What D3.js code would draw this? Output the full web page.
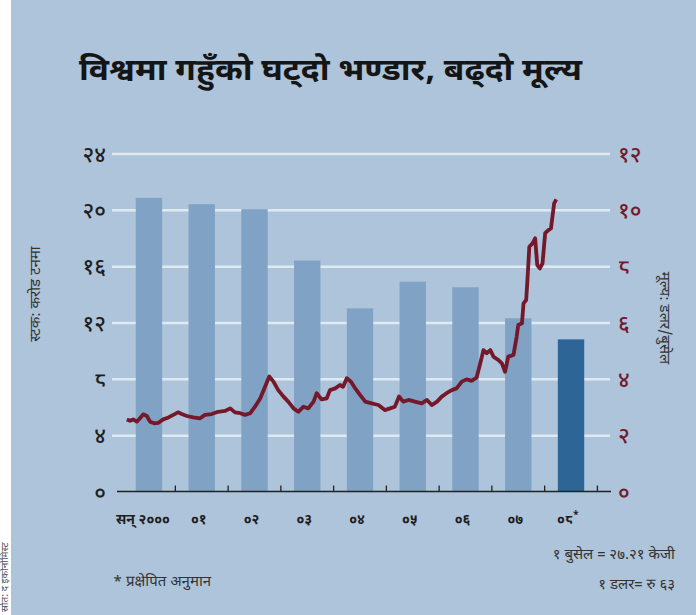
<!DOCTYPE html>
<html lang="ne">
<head>
<meta charset="utf-8">
<title>विश्वमा गहुँको घट्दो भण्डार, बढ्दो मूल्य</title>
<script src="https://cdn.jsdelivr.net/npm/d3@7/dist/d3.min.js"></script>
<style>
  body { margin: 0; background: #fff; }
  svg text { font-family: "Noto Sans Devanagari", "Lohit Devanagari", "FreeSans", "Noto Sans", sans-serif; }
</style>
</head>
<body>
<div id="chart"></div>
<script>
// years and stock bars (crore tonnes)
var years = ["2000", "2001", "2002", "2003", "2004", "2005", "2006", "2007", "2008"];
var yearLabels = ["सन् २०००", "०१", "०२", "०३", "०४", "०५", "०६", "०७", "०८"];
var stocks = [20.85, 20.4, 20.05, 16.4, 13.0, 14.9, 14.5, 12.3, 10.8];

// wheat price, dollar per bushel (fractional year, value)
var priceDates = [2000.08, 2000.14, 2000.20, 2000.27, 2000.33, 2000.39, 2000.46, 2000.52, 2000.60, 2000.68,
  2000.77, 2000.87, 2000.96, 2001.05, 2001.12, 2001.22, 2001.34, 2001.47, 2001.56, 2001.69,
  2001.81, 2001.94, 2002.04, 2002.13, 2002.23, 2002.32, 2002.42, 2002.51, 2002.61, 2002.70,
  2002.78, 2002.86, 2002.95, 2003.05, 2003.14, 2003.24, 2003.33, 2003.43, 2003.52, 2003.62,
  2003.68, 2003.77, 2003.87, 2003.93, 2004.03, 2004.12, 2004.18, 2004.25, 2004.33, 2004.41,
  2004.50, 2004.60, 2004.72, 2004.85, 2004.97, 2005.07, 2005.16, 2005.24, 2005.32, 2005.42,
  2005.54, 2005.67, 2005.77, 2005.86, 2005.96, 2006.05, 2006.14, 2006.24, 2006.33, 2006.43,
  2006.52, 2006.62, 2006.71, 2006.78, 2006.84, 2006.90, 2006.97, 2007.03, 2007.12, 2007.19,
  2007.25, 2007.31, 2007.41, 2007.47, 2007.50, 2007.57, 2007.60, 2007.65, 2007.67, 2007.71,
  2007.77, 2007.82, 2007.86, 2007.91, 2007.96, 2008.01, 2008.07, 2008.12, 2008.14, 2008.18, 2008.22];
var priceValues = [2.56, 2.51, 2.56, 2.48, 2.60, 2.74, 2.68, 2.48, 2.42, 2.44,
  2.56, 2.63, 2.72, 2.81, 2.75, 2.68, 2.63, 2.60, 2.72, 2.75,
  2.83, 2.86, 2.95, 2.81, 2.78, 2.72, 2.78, 3.01, 3.31, 3.72,
  4.08, 3.90, 3.60, 3.37, 3.19, 2.95, 2.83, 3.01, 2.95, 3.19,
  3.49, 3.27, 3.31, 3.60, 3.66, 3.78, 3.72, 4.02, 3.90, 3.66,
  3.43, 3.19, 3.13, 3.07, 2.89, 2.95, 3.01, 3.37, 3.19, 3.25,
  3.19, 3.13, 3.25, 3.07, 3.19, 3.37, 3.49, 3.60, 3.66, 3.90,
  3.98, 3.93, 4.05, 4.55, 5.02, 4.91, 5.02, 4.79, 4.67, 4.55,
  4.25, 4.79, 4.85, 5.50, 5.91, 5.97, 6.68, 6.80, 7.39, 8.69,
  8.81, 8.99, 8.04, 7.92, 8.10, 9.17, 9.28, 9.34, 9.64, 10.23, 10.37];

var stockTicks = [0, 4, 8, 12, 16, 20, 24];
var priceTicks = [0, 2, 4, 6, 8, 10, 12];

var W = 696, H = 615;
var deva = function(v) {
    return String(v).replace(/[0-9]/g, function(c) { return "०१२३४५६७८९"[+c]; });
};

var svg = d3.select("#chart").append("svg")
    .attr("width", W)
    .attr("height", H);

// background
svg.append("rect").attr("width", W).attr("height", H).attr("fill", "#fff");
svg.append("rect").attr("x", 11).attr("width", W - 11).attr("height", H).attr("fill", "#adc4da");

// scales
var x = d3.scaleBand().domain(years).range([122.6, 597.4]).paddingInner(0.5).paddingOuter(0.25);
var t = d3.scaleLinear().domain([2000, 2009]).range([122.6, 597.4]);
var yL = d3.scaleLinear().domain([0, 24]).range([491.5, 153.5]);
var yR = d3.scaleLinear().domain([0, 12]).range([491.5, 153.5]);

// left axis + gridlines
var gL = svg.append("g")
    .attr("transform", "translate(112,0)")
    .call(d3.axisLeft(yL).tickValues(stockTicks).tickSize(-498).tickPadding(6).tickFormat(deva));
gL.select(".domain").remove();
gL.selectAll(".tick line").attr("stroke", "#dfe9f2").attr("stroke-width", 2.5)
    .filter(function(d) { return d === 0; }).remove();
gL.selectAll(".tick text").attr("fill", "#1e1e1e").style("font-size", "22px").style("font-weight", "500").attr("dy", "0.35em");

// right axis
var gR = svg.append("g")
    .attr("transform", "translate(610,0)")
    .call(d3.axisRight(yR).tickValues(priceTicks).tickSize(0).tickPadding(8).tickFormat(deva));
gR.select(".domain").remove();
gR.selectAll(".tick text").attr("fill", "#74182a").style("font-size", "22px").style("font-weight", "500").attr("dy", "0.35em");

// bars
svg.selectAll(".bar")
    .data(stocks)
    .enter()
    .append("rect")
    .attr("class", "bar")
    .attr("x", function(d, i) { return x(years[i]); })
    .attr("width", x.bandwidth())
    .attr("y", function(d) { return yL(d); })
    .attr("height", function(d) { return yL(0) - yL(d); })
    .attr("fill", function(d, i) { return i === years.length - 1 ? "#2d6597" : "#7fa2c5"; });

// baseline and year ticks
svg.append("line")
    .attr("x1", 117).attr("x2", 611)
    .attr("y1", yL(0)).attr("y2", yL(0))
    .attr("stroke", "#222").attr("stroke-width", 1.3);
svg.selectAll(".ytick")
    .data(years)
    .enter()
    .append("line")
    .attr("class", "ytick")
    .attr("x1", function(d) { return x(d) + x.bandwidth() + x.step() * 0.25; })
    .attr("x2", function(d) { return x(d) + x.bandwidth() + x.step() * 0.25; })
    .attr("y1", yL(0)).attr("y2", yL(0) - 6)
    .attr("stroke", "#222").attr("stroke-width", 1.3);

// year labels
var xl = svg.selectAll(".xlab")
    .data(yearLabels)
    .enter()
    .append("text")
    .attr("class", "xlab")
    .attr("x", function(d, i) { return x(years[i]) + x.bandwidth() / 2 - (i === 0 ? 6 : 3); })
    .attr("y", 524)
    .attr("text-anchor", "middle")
    .attr("fill", "#1e1e1e")
    .style("font-size", "14px")
    .style("font-weight", "bold")
    .text(function(d) { return d; });
xl.filter(function(d, i) { return i === yearLabels.length - 1; })
    .append("tspan").attr("dy", -6).style("font-size", "10px").text("*");

// price line
var line = d3.line()
    .x(function(d) { return t(d[0]); })
    .y(function(d) { return yR(d[1]); });
svg.append("path")
    .datum(d3.zip(priceDates, priceValues))
    .attr("d", line)
    .attr("fill", "none")
    .attr("stroke", "#74182a")
    .attr("stroke-width", 3.8)
    .attr("stroke-linejoin", "round");

// title
svg.append("text")
    .attr("x", 79).attr("y", 80)
    .attr("fill", "#151515")
    .attr("textLength", 503)
    .attr("lengthAdjust", "spacingAndGlyphs")
    .style("font-size", "30px")
    .style("font-weight", "bold")
    .text("विश्वमा गहुँको घट्दो भण्डार, बढ्दो मूल्य");

// axis titles
svg.append("text")
    .attr("transform", "translate(40,294) rotate(-90)")
    .attr("text-anchor", "middle")
    .attr("fill", "#333")
    .style("font-size", "15px")
    .text("स्टक: करोड टनमा");
svg.append("text")
    .attr("transform", "translate(660,318) rotate(90)")
    .attr("text-anchor", "middle")
    .attr("fill", "#333")
    .style("font-size", "15px")
    .text("मूल्य: डलर/बुसेल");

// notes
svg.append("text")
    .attr("x", 675).attr("y", 559)
    .attr("text-anchor", "end")
    .attr("fill", "#333")
    .style("font-size", "15px")
    .text("१ बुसेल = २७.२१ केजी");
svg.append("text")
    .attr("x", 675).attr("y", 589)
    .attr("text-anchor", "end")
    .attr("fill", "#333")
    .style("font-size", "15px")
    .text("१ डलर= रु ६३");
svg.append("text")
    .attr("x", 113).attr("y", 586)
    .attr("fill", "#333")
    .style("font-size", "15px")
    .text("* प्रक्षेपित अनुमान");

// source, rotated in the white strip
svg.append("text")
    .attr("transform", "translate(8,612) rotate(-90)")
    .attr("fill", "#555")
    .style("font-size", "10px")
    .text("स्रोत: द इकोनोमिस्ट");
</script>
</body>
</html>
